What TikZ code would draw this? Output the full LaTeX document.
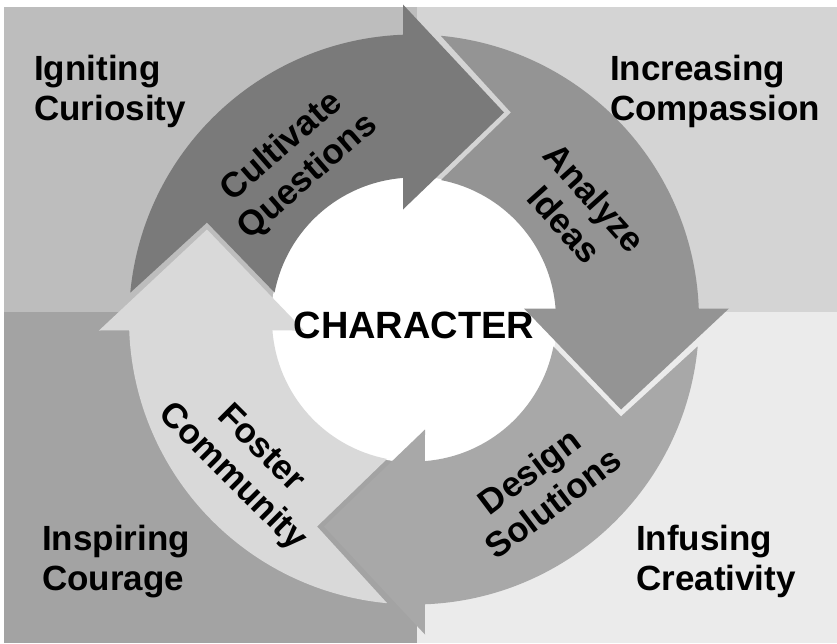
\documentclass[tikz,border=0pt]{standalone}
\usepackage{fontspec}
\setmainfont{Liberation Sans}
\usepackage{tikz}

\definecolor{quadTL}{gray}{0.74}
\definecolor{quadTR}{gray}{0.83}
\definecolor{quadBL}{gray}{0.64}
\definecolor{quadBR}{gray}{0.92}
\definecolor{arrowQ}{gray}{0.48}
\definecolor{arrowA}{gray}{0.58}
\definecolor{arrowD}{gray}{0.66}
\definecolor{arrowF}{gray}{0.85}

\tikzset{
	corner/.style={font=\fontsize{35}{40}\selectfont\bfseries, align=left, anchor=base west, inner sep=0pt},
	arrowlabel/.style={font=\fontsize{35}{40}\selectfont\bfseries, align=center, inner sep=0pt},
}

\begin{document}
\begin{tikzpicture}[x=1pt, y=1pt]

\useasboundingbox (-414, -323.5) rectangle (423, 319.5);

% draw the four quadrants
\fill[color=quadTL] (-410, 312.5) rectangle (3, 7.5);
\fill[color=quadTR] (3, 312.5) rectangle (423, 7.5);
\fill[color=quadBL] (-410, 7.5) rectangle (3, -323.5);
\fill[color=quadBR] (3, 7.5) rectangle (423, -323.5);

% white centre
\fill[color=white] (0, 0) circle (143);

% draw the ring arrows, one per quarter
\foreach \rot/\col in {0/arrowQ, -90/arrowA, -180/arrowD, -270/arrowF}
{
	\fill[color=\col, rotate=\rot] (174.6 : 285) arc[start angle=174.6, end angle=92.2, radius=285]
		-- (-11, 315) -- (90, 207) -- (-11, 110) -- (94.44 : 142)
		arc[start angle=94.44, end angle=169.05, radius=142]
		-- (154.9 : 228.6) -- cycle;
}

% label the arrows
\node[arrowlabel, rotate=41] (cultivate) at (-119, 157.5) {Cultivate\\Questions};
\node[arrowlabel, rotate=-48] (analyze) at (166, 108.5) {Analyze\\Ideas};
\node[arrowlabel, rotate=37] (design) at (127, -167.5) {Design\\Solutions};
\node[arrowlabel, rotate=-45] (foster) at (-168, -144) {Foster\\Community};

% label the corners
\node[corner] (curiosity) at (-380, 198.5) {Igniting\\Curiosity};
\node[corner] (compassion) at (196, 198.5) {Increasing\\Compassion};
\node[corner] (courage) at (-372, -270.5) {Inspiring\\Courage};
\node[corner] (creativity) at (222, -270.5) {Infusing\\Creativity};

% centre word
\node[font=\fontsize{38}{40}\selectfont\bfseries, anchor=base, inner sep=0pt] (character) at (0, -18.5) {CHARACTER};

\end{tikzpicture}
\end{document}
